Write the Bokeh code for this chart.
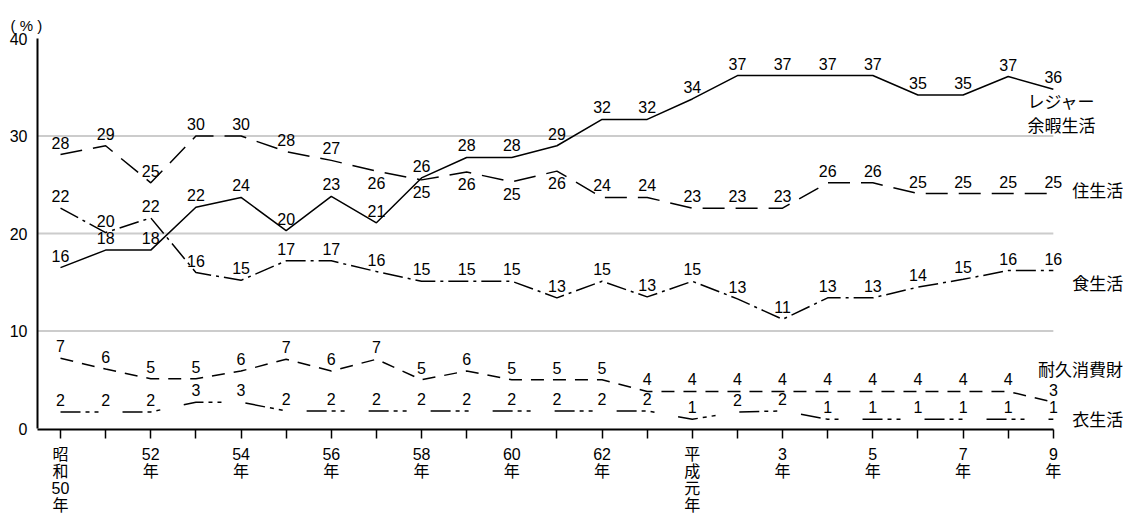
from bokeh.plotting import figure
from bokeh.models import ColumnDataSource, LabelSet, Label, FixedTicker, Range1d, Title
from bokeh.core.properties import value
from bokeh.embed import file_html
from bokeh.resources import INLINE

# ---- data ----
tick_labels = ["昭\n和\n50\n年", "", "52\n年", "", "54\n年", "", "56\n年", "", "58\n年", "",
               "60\n年", "", "62\n年", "", "平\n成\n元\n年", "", "3\n年", "", "5\n年", "",
               "7\n年", "", "9\n年"]
y_ticks = [0, 10, 20, 30, 40]
grid_values = [10, 20, 30]

leisure = [16.5, 18.3, 18.3, 22.7, 23.7, 20.3, 23.8, 21.1, 25.7, 27.8, 27.8, 29.0, 31.7,
           31.7, 33.8, 36.2, 36.2, 36.2, 36.2, 34.2, 34.2, 36.1, 34.8]
leisure_lab = [16, 18, 18, 22, 24, 20, 23, 21, 26, 28, 28, 29, 32, 32, 34, 37, 37, 37, 37,
               35, 35, 37, 36]

housing = [28.1, 29.0, 25.2, 30.0, 30.0, 28.4, 27.5, 26.4, 25.5, 26.3, 25.3, 26.4, 23.7,
           23.7, 22.6, 22.6, 22.6, 25.2, 25.2, 24.1, 24.1, 24.1, 24.1]
housing_lab = [28, 29, 25, 30, 30, 28, 27, 26, 25, 26, 25, 26, 24, 24, 23, 23, 23, 26, 26,
               25, 25, 25, 25]

food = [22.6, 20.1, 21.6, 16.0, 15.2, 17.2, 17.2, 16.1, 15.1, 15.1, 15.1, 13.4, 15.1, 13.5,
        15.1, 13.3, 11.2, 13.4, 13.4, 14.5, 15.3, 16.2, 16.2]
food_lab = [22, 20, 22, 16, 15, 17, 17, 16, 15, 15, 15, 13, 15, 13, 15, 13, 11, 13, 13, 14,
            15, 16, 16]

durable = [7.2, 6.1, 5.1, 5.1, 5.9, 7.1, 5.9, 7.1, 5.0, 5.9, 5.0, 5.0, 5.0, 3.8, 3.8, 3.8,
           3.8, 3.8, 3.8, 3.8, 3.8, 3.8, 2.7]
durable_lab = [7, 6, 5, 5, 6, 7, 6, 7, 5, 6, 5, 5, 5, 4, 4, 4, 4, 4, 4, 4, 4, 4, 3]

clothing = [1.7, 1.7, 1.7, 2.7, 2.7, 1.8, 1.8, 1.8, 1.8, 1.8, 1.8, 1.8, 1.8, 1.8, 0.95, 1.7,
            1.8, 0.95, 0.95, 0.95, 0.95, 0.95, 0.95]
clothing_lab = [2, 2, 2, 3, 3, 2, 2, 2, 2, 2, 2, 2, 2, 2, 1, 2, 2, 1, 1, 1, 1, 1, 1]

series_names = ["レジャー\n余暇生活", "住生活", "食生活", "耐久消費財", "衣生活"]
unit_label = "(  %  )"

# ---- styles ----
FONT = "Liberation Sans, Noto Sans CJK JP"
dashes = ["solid", "22 11", "20 5 3 5", "13 9", "20 5 4 5 4 24"]
housing_below = {7, 8, 9, 10, 11}

x = list(range(len(tick_labels)))
x_last = x[-1]
X0, X1 = -0.51, 23.71

p = figure(width=1130, height=516, x_range=Range1d(X0, X1), y_range=Range1d(-0.1, 40),
           min_border_left=37, min_border_right=0, min_border_top=38, min_border_bottom=87,
           output_backend="svg", toolbar_location=None)
p.outline_line_color = None
p.background_fill_color = "white"
p.border_fill_color = "white"

p.add_layout(Title(text=unit_label, align="left", offset=-27, text_font=FONT,
                   text_font_size="15px", text_font_style="normal", standoff=10,
                   text_color="black"), "above")

# axes
p.xaxis.ticker = FixedTicker(ticks=x)
p.xaxis.bounds = (X0, x_last)
p.xaxis.major_label_overrides = {i: t for i, t in enumerate(tick_labels)}
p.xaxis.major_tick_out = 9
p.xaxis.major_tick_in = 0
p.xaxis.minor_tick_line_color = None
p.xaxis.axis_line_width = 2
p.xaxis.major_tick_line_width = 1.5
p.xaxis.major_label_standoff = 7
p.xaxis.major_label_text_font = FONT
p.xaxis.major_label_text_font_size = "16px"
p.xaxis.major_label_text_line_height = 1.0
p.xaxis.major_label_text_color = "black"

p.yaxis.ticker = FixedTicker(ticks=y_ticks)
p.yaxis.bounds = (0, y_ticks[-1])
p.yaxis.major_tick_out = 0
p.yaxis.major_tick_in = 0
p.yaxis.minor_tick_line_color = None
p.yaxis.axis_line_width = 2
p.yaxis.major_label_standoff = 10
p.yaxis.major_label_text_font = FONT
p.yaxis.major_label_text_font_size = "16px"
p.yaxis.major_label_text_color = "black"

p.xgrid.visible = False
p.ygrid.visible = False
p.segment(x0=[X0] * len(grid_values), x1=[x_last] * len(grid_values),
          y0=grid_values, y1=grid_values, line_color="#cccccc", line_width=2)

all_vals = [leisure, housing, food, durable, clothing]
all_labs = [leisure_lab, housing_lab, food_lab, durable_lab, clothing_lab]

ax, ay, at, bx, by, bt = [], [], [], [], [], []
for si, (vals, labs, dash) in enumerate(zip(all_vals, all_labs, dashes)):
    p.line(x, vals, line_color="black", line_width=1.5, line_dash=dash)
    for i, (v, l) in enumerate(zip(vals, labs)):
        if si == 1 and i in housing_below:
            bx.append(i); by.append(v); bt.append(str(l))
        else:
            ax.append(i); ay.append(v); at.append(str(l))

src_a = ColumnDataSource(dict(x=ax, y=ay, t=at))
src_b = ColumnDataSource(dict(x=bx, y=by, t=bt))
p.add_layout(LabelSet(x="x", y="y", text="t", source=src_a, y_offset=6,
                      text_align="center", text_baseline="alphabetic",
                      text_font=value(FONT), text_font_size="16px", text_color="black"))
p.add_layout(LabelSet(x="x", y="y", text="t", source=src_b, y_offset=-6,
                      text_align="center", text_baseline="top",
                      text_font=value(FONT), text_font_size="16px", text_color="black"))

# series name labels at right
name_pos = [(x_last + 0.18, 33.4, "center", "レジャー"), (x_last + 0.18, 31.0, "center", "余暇生活"),
            (x_last + 0.42, 24.3, "left", series_names[1]),
            (x_last + 0.42, 14.8, "left", series_names[2]),
            (x_last - 0.34, 6.0, "left", series_names[3]),
            (x_last + 0.42, 0.8, "left", series_names[4])]
for nx, ny, al, txt in name_pos:
    p.add_layout(Label(x=nx, y=ny, text=txt, text_align=al, text_baseline="middle",
                       text_font=FONT, text_font_size="17px", text_color="black"))

open("out.html", "w").write(file_html(p, INLINE))
